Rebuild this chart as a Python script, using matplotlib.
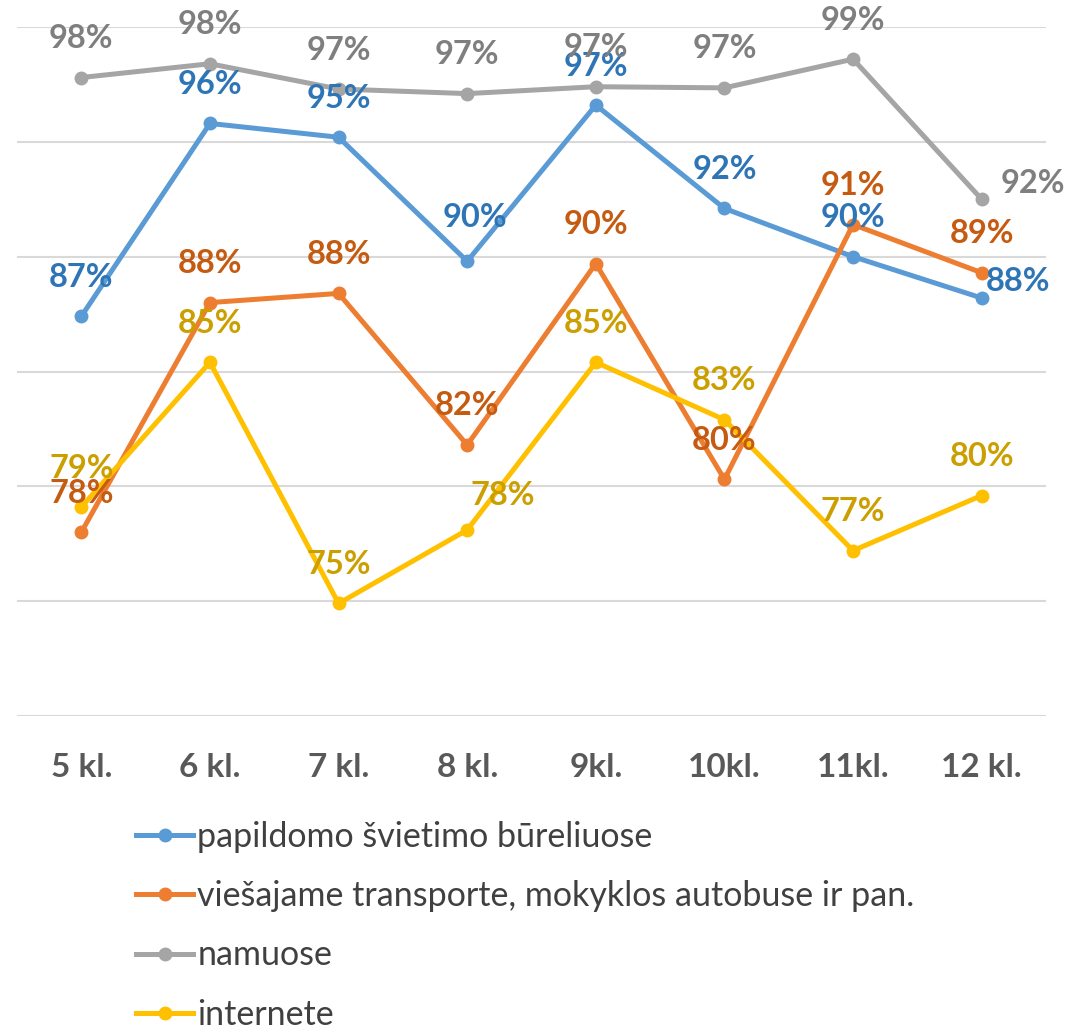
import matplotlib
matplotlib.use("Agg")
import matplotlib.pyplot as plt
from matplotlib.lines import Line2D

categories = ["5 kl.", "6 kl.", "7 kl.", "8 kl.", "9kl.", "10kl.", "11kl.", "12 kl."]
series_names = [
    "papildomo švietimo būreliuose",
    "viešajame transporte, mokyklos autobuse ir pan.",
    "namuose",
    "internete",
]
burel = [87.4, 95.8, 95.2, 89.8, 96.6, 92.1, 90.0, 88.2]
transport = [78.0, 88.0, 88.4, 81.8, 89.7, 80.3, 91.4, 89.3]
namuose = [97.8, 98.4, 97.3, 97.1, 97.4, 97.35, 98.6, 92.5]
internete = [79.1, 85.4, 74.9, 78.1, 85.4, 82.9, 77.2, 79.6]

all_series = [burel, transport, namuose, internete]
line_colors = ["#5B9BD5", "#ED7D31", "#A5A5A5", "#FFC000"]
label_colors = ["#2E75B6", "#C55A11", "#7F7F7F", "#CC9F00"]

# label offsets in pixels (dx, dy); default is straight above
default_off = (0, 39)
special_off = {
    (0, 3): (8, 44),
    (3, 3): (36, 34),
    (2, 7): (51, 16),
    (0, 7): (36, 17),
}

plt.rcParams['font.family'] = ['Lato', 'DejaVu Sans']

fig = plt.figure(figsize=(10.68, 10.31), dpi=100)
W, H = 1068, 1031
ax = fig.add_axes([17 / W, (H - 716) / H, (1046 - 17) / W, (716 - 27) / H])

x = list(range(len(categories)))
for si, (vals, lc) in enumerate(zip(all_series, line_colors)):
    ax.plot(x, vals, color=lc, lw=3.6, marker='o', ms=9, zorder=3 + si * 0.01,
            solid_capstyle='round')

for si, vals in enumerate(all_series):
    for i, v in enumerate(vals):
        dx, dy = special_off.get((si, i), default_off)
        ax.annotate(f"{round(v):d}%", (i, v), xytext=(dx, dy), textcoords='offset pixels',
                    ha='center', va='center', fontsize=23.5, fontweight='bold',
                    color=label_colors[si], zorder=5)

ax.set_xlim(-0.5, len(categories) - 0.5)
ax.set_ylim(70, 100)
ax.set_yticks([70, 75, 80, 85, 90, 95, 100])
ax.yaxis.grid(True, color="#D9D9D9", lw=1.5)
ax.set_axisbelow(True)
ax.tick_params(axis='y', left=False, labelleft=False)
ax.tick_params(axis='x', bottom=False, pad=23)
ax.set_xticks(x)
ax.set_xticklabels(categories, fontsize=24, fontweight='bold', color="#595959")
for s in ax.spines.values():
    s.set_visible(False)
ax.patch.set_alpha(0)

handles = [Line2D([0], [0], color=c, lw=3.6, marker='o', ms=9) for c in line_colors]
fig.legend(handles, series_names, loc='upper left', bbox_to_anchor=(136 / W, (H - 821) / H),
           frameon=False, fontsize=24.5, handlelength=1.68, handletextpad=0.12,
           labelspacing=0.8, labelcolor="#404040", borderaxespad=0, borderpad=0)

fig.savefig("out.png", dpi=100)
